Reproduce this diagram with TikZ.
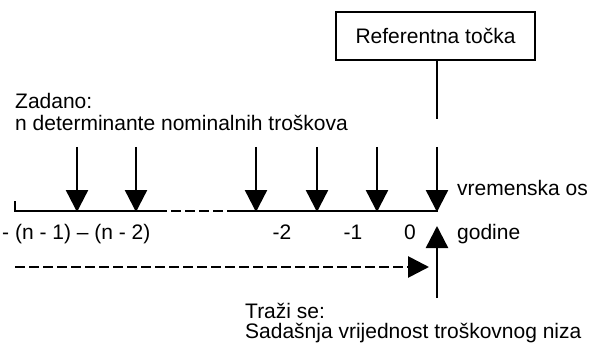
\documentclass[tikz,border=0pt]{standalone}
\usepackage{fontspec}
\setmainfont{Liberation Sans}
\usetikzlibrary{arrows.meta}
\begin{document}
\begin{tikzpicture}[x=1pt,y=-1pt,
  txt/.style={font=\fontsize{21}{24}\selectfont, inner sep=0pt},
  ln/.style={line width=2.4pt},
  axisline/.style={line width=2.8pt},
  dsh/.style={dash pattern=on 10pt off 4pt},
  arr/.style={line width=2.4pt, -{Triangle[width=22pt,length=22pt]}},
  boxstyle/.style={draw, line width=2.2pt, minimum width=199pt, minimum height=48pt, inner sep=0pt, font=\fontsize{21}{24}\selectfont}]
\useasboundingbox (0,0) rectangle (590,345);
% reference box
\node[boxstyle] (ref) at (435.5,36) {Referentna točka};
\coordinate (refend) at (437,119);
\draw[ln] (ref.south -| refend) -- (refend);
% texts
\node[txt, anchor=base west] (zad) at (15,109) {Zadano:};
\node[txt, anchor=base west] (det) at (15,131) {n determinante nominalnih troškova};
% axis
\coordinate (tick) at (15,201);
\coordinate (ax0) at (15,211);
\coordinate (axd1) at (157,211);
\coordinate (axd2) at (237,211);
\coordinate (axend) at (438,211);
\draw[axisline] (tick) -- (ax0) -- (axd1);
\draw[axisline, dsh] (axd1) -- (axd2);
\draw[axisline] (axd2) -- (axend);
% down arrows
\foreach \i/\x in {1/77,2/136,3/256,4/317,5/377,6/437}{
  \coordinate (t\i) at (\x,147);
  \coordinate (b\i) at (\x,212);
  \draw[arr] (t\i) -- (b\i);
}
\node[txt, anchor=base west] (vos) at (457,196) {vremenska os};
% labels below
\node[txt, anchor=base west] (lbln) at (2,240) {- (n - 1) – (n - 2)};
\node[txt, anchor=base] (l2) at (282,240) {-2};
\node[txt, anchor=base] (l1) at (353,240) {-1};
\node[txt, anchor=base] (l0) at (410,240) {0};
\node[txt, anchor=base west] (god) at (457,240) {godine};
% up arrow
\coordinate (upb) at (437,298);
\coordinate (upt) at (437,226);
\draw[arr] (upb) -- (upt);
% dashed arrow
\coordinate (ds) at (15,267);
\coordinate (de) at (429,267);
\draw[line width=2.8pt, dsh, -{Triangle[width=21pt,length=21pt]}] (ds) -- (de);
% bottom texts
\node[txt, anchor=base west] (trazi) at (245,318) {Traži se:};
\node[txt, anchor=base west] (sad) at (245,338) {Sadašnja vrijednost troškovnog niza};
\end{tikzpicture}
\end{document}
